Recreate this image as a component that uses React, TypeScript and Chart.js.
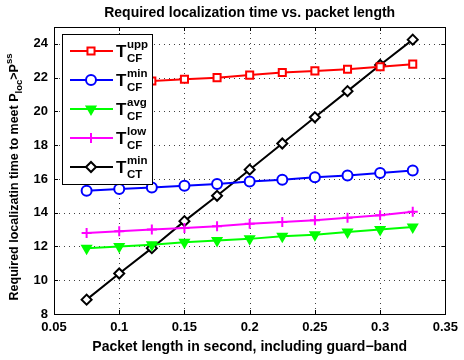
import React, { useEffect, useRef } from "react";
import { Chart, registerables } from "chart.js";
import { drawPoint } from "chart.js/helpers";

Chart.register(...registerables);

const packetLength = [0.075, 0.1, 0.125, 0.15, 0.175, 0.2, 0.225, 0.25, 0.275, 0.3, 0.325];
const tUppCF = [21.5, 21.65, 21.8, 21.9, 22.0, 22.15, 22.3, 22.4, 22.5, 22.65, 22.8];
const tMinCF = [15.3, 15.4, 15.5, 15.6, 15.7, 15.85, 15.95, 16.1, 16.2, 16.35, 16.5];
const tAvgCF = [11.9, 12.0, 12.1, 12.25, 12.35, 12.45, 12.6, 12.7, 12.85, 13.0, 13.15];
const tLowCF = [12.8, 12.9, 13.0, 13.1, 13.2, 13.35, 13.45, 13.55, 13.7, 13.85, 14.05];
const tMinCT = [8.85, 10.4, 11.9, 13.5, 15.0, 16.55, 18.1, 19.65, 21.2, 22.75, 24.25];

const xTicks = [0.05, 0.1, 0.15, 0.2, 0.25, 0.3, 0.35];
const yTicks = [8, 10, 12, 14, 16, 18, 20, 22, 24];

const legendSup = ["upp", "min", "avg", "low", "min"];
const legendSub = ["CF", "CF", "CF", "CF", "CT"];

const FONT = "'Liberation Sans', Arial, Helvetica, sans-serif";

const seriesStyle = [
  { color: "#ff0000", style: "rect", rot: 0, fill: false },
  { color: "#0000ff", style: "circle", rot: 0, fill: false },
  { color: "#00ff00", style: "triangle", rot: 180, fill: true },
  { color: "#ff00ff", style: "cross", rot: 0, fill: false },
  { color: "#000000", style: "rectRot", rot: 0, fill: false },
];

const seriesValues = [tUppCF, tMinCF, tAvgCF, tLowCF, tMinCT];

const gridPlugin = {
  id: "dotgrid",
  beforeDatasetsDraw(chart: any) {
    const ctx = chart.ctx as CanvasRenderingContext2D;
    const { left, right, top, bottom } = chart.chartArea;
    const xs = chart.scales.x;
    const ys = chart.scales.y;
    ctx.save();
    ctx.strokeStyle = "rgba(0,0,0,0.75)";
    ctx.lineWidth = 1;
    ctx.setLineDash([1, 4]);
    ctx.beginPath();
    xTicks.forEach((v) => {
      const px = Math.round(xs.getPixelForValue(v)) + 0.5;
      if (px <= left + 1 || px >= right - 1) return;
      ctx.moveTo(px, bottom);
      ctx.lineTo(px, top);
    });
    yTicks.forEach((v) => {
      const py = Math.round(ys.getPixelForValue(v)) + 0.5;
      if (py <= top + 1 || py >= bottom - 1) return;
      ctx.moveTo(left, py);
      ctx.lineTo(right, py);
    });
    ctx.stroke();
    ctx.restore();
  },
};

const decorPlugin = {
  id: "decor",
  afterDraw(chart: any) {
    const ctx = chart.ctx as CanvasRenderingContext2D;
    const { left, right, top, bottom } = chart.chartArea;
    const xs = chart.scales.x;
    const ys = chart.scales.y;
    ctx.save();
    // inner ticks
    ctx.strokeStyle = "#000";
    ctx.lineWidth = 1;
    ctx.beginPath();
    xTicks.forEach((v) => {
      const px = Math.round(xs.getPixelForValue(v)) + 0.5;
      ctx.moveTo(px, bottom);
      ctx.lineTo(px, bottom - 4);
      ctx.moveTo(px, top);
      ctx.lineTo(px, top + 4);
    });
    yTicks.forEach((v) => {
      const py = Math.round(ys.getPixelForValue(v)) + 0.5;
      ctx.moveTo(left, py);
      ctx.lineTo(left + 4, py);
      ctx.moveTo(right, py);
      ctx.lineTo(right - 4, py);
    });
    ctx.stroke();
    // border
    ctx.strokeRect(Math.round(left) + 0.5, Math.round(top) + 0.5, Math.round(right - left), Math.round(bottom - top));

    // title
    ctx.fillStyle = "#000";
    ctx.font = `bold 14px ${FONT}`;
    ctx.textAlign = "center";
    ctx.textBaseline = "alphabetic";
    ctx.fillText("Required localization time vs. packet length", (left + right) / 2, 17);

    // x title
    ctx.font = `bold 14px ${FONT}`;
    ctx.fillText("Packet length in second, including guard\u2212band", (left + right) / 2, 351);

    // y title (rotated, rich)
    ctx.save();
    ctx.translate(18, 177);
    ctx.rotate(-Math.PI / 2);
    const parts = [
      { t: "Required localizatin time to meet P", s: 12.5, dy: 0 },
      { t: "loc", s: 9.5, dy: 4 },
      { t: ">P", s: 12.5, dy: 0 },
      { t: "ss", s: 9.5, dy: -6 },
    ];
    let total = 0;
    parts.forEach((p) => {
      ctx.font = `bold ${p.s}px ${FONT}`;
      total += ctx.measureText(p.t).width;
    });
    let cx = -total / 2;
    ctx.textAlign = "left";
    parts.forEach((p) => {
      ctx.font = `bold ${p.s}px ${FONT}`;
      ctx.fillText(p.t, cx, p.dy);
      cx += ctx.measureText(p.t).width;
    });
    ctx.restore();

    // legend
    const bx = 62, by = 34, bw = 90, bh = 150;
    ctx.fillStyle = "#fff";
    ctx.fillRect(bx, by, bw, bh);
    ctx.strokeStyle = "#000";
    ctx.lineWidth = 1;
    ctx.strokeRect(bx + 0.5, by + 0.5, bw, bh);
    seriesStyle.forEach((st, i) => {
      const cy = 51 + i * 29;
      ctx.strokeStyle = st.color;
      ctx.lineWidth = 2;
      ctx.beginPath();
      ctx.moveTo(70, cy);
      ctx.lineTo(113, cy);
      ctx.stroke();
      ctx.fillStyle = st.fill ? st.color : "#fff";
      drawPoint(ctx, {
        pointStyle: st.style,
        radius: 5,
        rotation: st.rot,
        borderWidth: 2,
      } as any, 91, cy);
      ctx.fillStyle = "#000";
      ctx.textAlign = "left";
      ctx.font = `bold 17px ${FONT}`;
      ctx.fillText("T", 116, cy + 6);
      ctx.font = `bold 11.5px ${FONT}`;
      ctx.fillText(legendSup[i], 127, cy - 3);
      ctx.fillText(legendSub[i], 127, cy + 11);
    });
    ctx.restore();
  },
};

export default function App() {
  const ref = useRef<HTMLCanvasElement>(null);
  useEffect(() => {
    if (!ref.current) return;
    const chart = new Chart(ref.current, {
      type: "line",
      data: {
        datasets: seriesStyle.map((st, i) => ({
          label: "T" + legendSup[i] + legendSub[i],
          data: packetLength.map((x, j) => ({ x, y: seriesValues[i][j] })),
          borderColor: st.color,
          backgroundColor: st.fill ? st.color : "#ffffff",
          pointBorderColor: st.color,
          pointBackgroundColor: st.fill ? st.color : "#ffffff",
          pointStyle: st.style as any,
          pointRotation: st.rot,
          pointRadius: 5,
          pointBorderWidth: 2,
          borderWidth: 2,
          tension: 0,
          fill: false,
        })),
      },
      options: {
        animation: false,
        responsive: false,
        maintainAspectRatio: false,
        layout: { padding: { top: 27, right: 14, left: 0, bottom: 0 } },
        plugins: { legend: { display: false }, title: { display: false }, tooltip: { enabled: false } },
        scales: {
          x: {
            type: "linear",
            min: 0.05,
            max: 0.35,
            afterFit: (s: any) => { s.height = 46; },
            afterBuildTicks: (s: any) => {
              s.ticks = xTicks.map((v) => ({ value: v }));
            },
            ticks: {
              color: "#000",
              font: { family: FONT, size: 13, weight: "bold" },
              padding: 6,
              maxRotation: 0,
              autoSkip: false,
              callback: (v: any) => String(Number(Number(v).toFixed(2))),
            },
            grid: { display: false, drawTicks: false },
            border: { display: false },
          },
          y: {
            min: 8,
            max: 25,
            afterFit: (s: any) => { s.width = 54; },
            afterBuildTicks: (s: any) => {
              s.ticks = yTicks.map((v) => ({ value: v }));
            },
            ticks: {
              color: "#000",
              font: { family: FONT, size: 13, weight: "bold" },
              padding: 6,
            },
            grid: { display: false, drawTicks: false },
            border: { display: false },
          },
        },
      },
      plugins: [gridPlugin, decorPlugin],
    } as any);
    return () => chart.destroy();
  }, []);
  return (
    <div style={{ position: "fixed", left: 0, top: 0, width: 464, height: 360, background: "#fff" }}>
      <canvas ref={ref} width={464} height={360} style={{ width: 464, height: 360 }} />
    </div>
  );
}
